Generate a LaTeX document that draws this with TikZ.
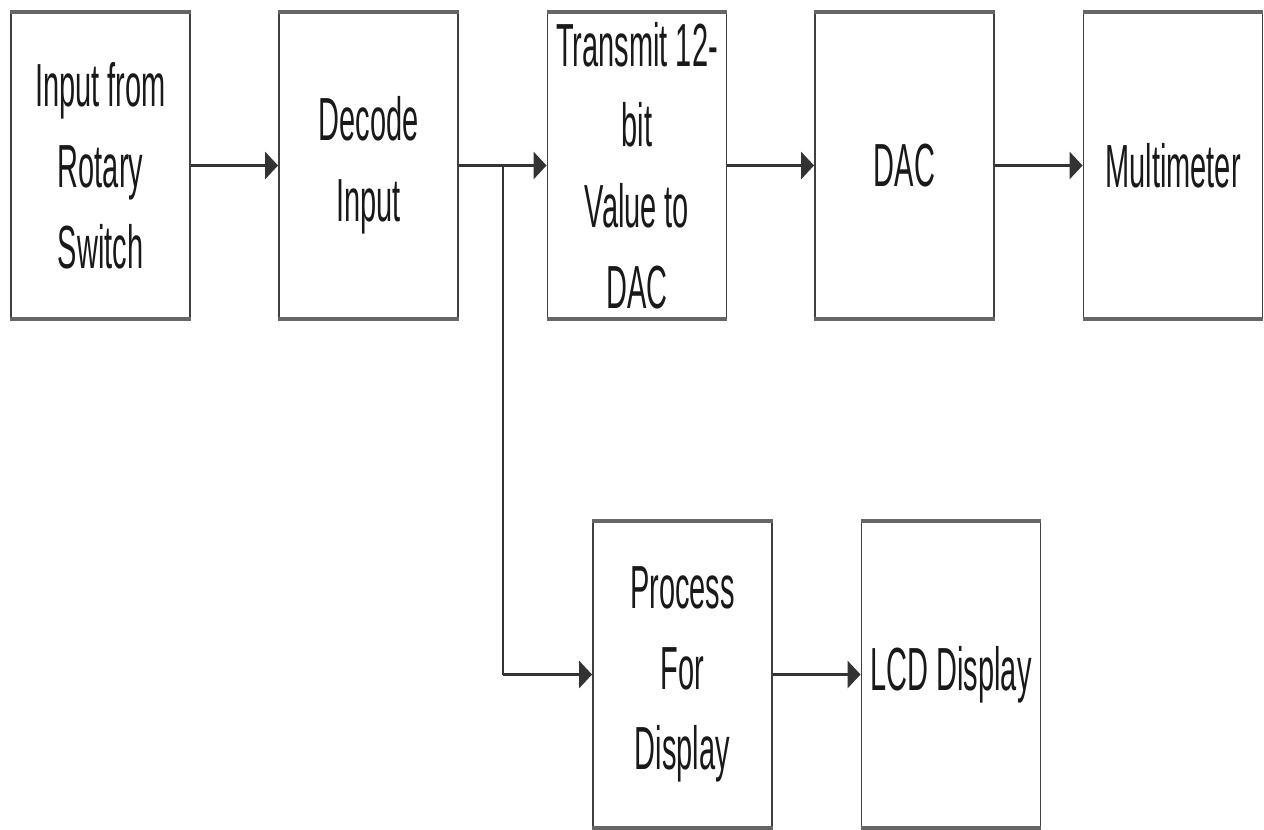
\documentclass[tikz,border=0pt]{standalone}
\usepackage{fontspec}
\setmainfont{Liberation Sans}
\usetikzlibrary{arrows.meta}
\newcommand{\tall}[1]{\scalebox{1}[2.1]{#1}}

\begin{document}
\begin{tikzpicture}[x=0.02cm,y=-0.02cm,>={Triangle[length=0.26cm,width=0.54cm]},
block/.style={draw=black!75, line width=1.1pt, minimum width=3.58cm, minimum height=6.1cm, inner sep=0pt, align=center, text=black!90, font=\fontsize{16.5}{46}\selectfont},
rim/.style={draw=black!60, line width=2.4pt},
flow/.style={->, draw=black!80, line width=2.2pt},
drop/.style={draw=black!80, line width=1.1pt}]
\useasboundingbox (0,0) rectangle (1264,829);
\node[block] (rot) at (100.5,165.5) {\tall{Input from}\\\tall{Rotary}\\\tall{Switch}};
\node[block] (dec) at (368.5,165.5) {\tall{Decode}\\\tall{Input}};
\node[block] (tx) at (637,165.5) {\tall{Transmit 12-}\\\tall{bit}\\\tall{Value to}\\\tall{DAC}};
\node[block] (dac) at (904.5,165.5) {\tall{DAC}};
\node[block] (meter) at (1173,165.5) {\tall{Multimeter}};
\node[block] (proc) at (682.5,674.5) {\tall{Process}\\\tall{For}\\\tall{Display}};
\node[block] (lcd) at (951,674.5) {\tall{LCD Display}};
\foreach \n in {rot,dec,tx,dac,meter,proc,lcd}
  \draw[rim] (\n.north west) -- (\n.north east) (\n.south west) -- (\n.south east);
\coordinate (split) at (503,165.5);
\coordinate (bend) at (split |- proc.west);
\draw[flow] (rot) -- (dec);
\draw[flow] (dec) -- (tx);
\draw[flow] (tx) -- (dac);
\draw[flow] (dac) -- (meter);
\draw[drop] (split) -- (bend);
\draw[flow] (bend) -- (proc);
\draw[flow] (proc) -- (lcd);
\end{tikzpicture}
\end{document}
